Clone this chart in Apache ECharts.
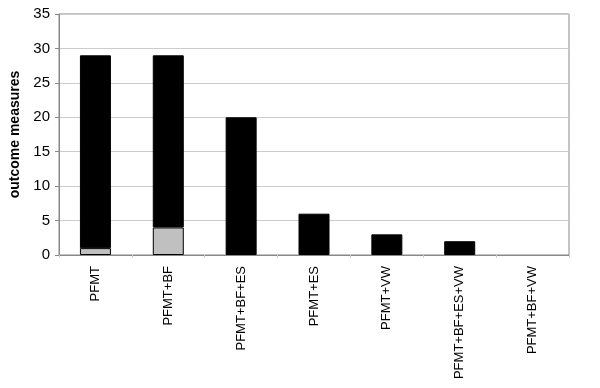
<!DOCTYPE html>
<html><head><meta charset="utf-8">
<script src="https://cdn.jsdelivr.net/npm/echarts@6/dist/echarts.min.js"></script>
<style>html,body{margin:0;padding:0;background:#fff}#c{width:600px;height:388px}</style>
</head><body><div id="c"></div>
<script>
const categories = ["PFMT","PFMT+BF","PFMT+BF+ES","PFMT+ES","PFMT+VW","PFMT+BF+ES+VW","PFMT+BF+VW"];
const greyValues = [1, 4, 0, 0, 0, 0, 0];
const blackValues = [28, 25, 20, 6, 3, 2, 0];
const yTicks = [0, 5, 10, 15, 20, 25, 30, 35];

const noZero = arr => arr.map(v => v === 0 ? '-' : v);
const chart = echarts.init(document.getElementById('c'));
chart.setOption({
  animation: false,
  grid: {left: 59, right: 31, top: 14, bottom: 133, show: true, borderColor: '#888', borderWidth: 1},
  xAxis: {
    type: 'category', data: categories,
    axisLine: {lineStyle: {color: '#888'}},
    axisTick: {show: true, length: 3, lineStyle: {color: '#ccc'}},
    axisLabel: {rotate: 90, color: '#000', fontFamily: 'Liberation Sans, Arial', fontSize: 13, margin: 11}
  },
  yAxis: {
    type: 'value', min: yTicks[0], max: yTicks[yTicks.length-1], interval: 5,
    name: 'outcome measures', nameLocation: 'middle', nameRotate: 90, nameGap: 37,
    nameTextStyle: {fontWeight: 'bold', fontSize: 14, color: '#000', fontFamily: 'Liberation Sans, Arial'},
    axisLine: {show: true, lineStyle: {color: '#888'}},
    axisTick: {show: true, length: 4, lineStyle: {color: '#888'}},
    splitLine: {lineStyle: {color: '#ccc'}},
    axisLabel: {color: '#000', fontSize: 15, fontFamily: 'Liberation Sans, Arial', margin: 9}
  },
  series: [
    {type: 'bar', stack: 's', data: noZero(greyValues), barWidth: 31,
     itemStyle: {color: '#c0c0c0', borderColor: '#000', borderWidth: 1}},
    {type: 'bar', stack: 's', data: noZero(blackValues), barWidth: 31,
     itemStyle: {color: '#000', borderColor: '#000', borderWidth: 1}}
  ]
});
</script></body></html>
